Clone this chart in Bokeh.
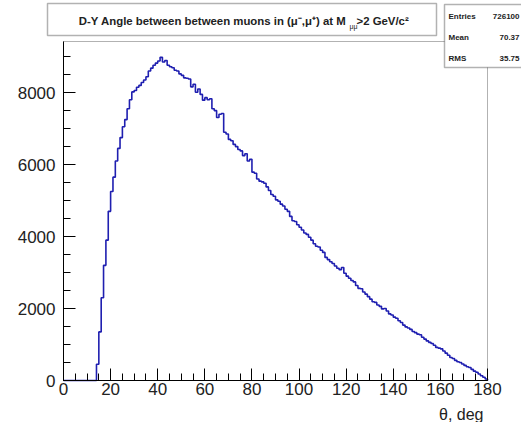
from bokeh.plotting import figure
from bokeh.models import Range1d, SingleIntervalTicker, Label, BoxAnnotation, ColumnDataSource
from bokeh.embed import file_html
from bokeh.resources import INLINE

# histogram bin edges (degrees) and counts per 1-degree bin
theta_edges = list(range(0, 181))
counts = [0] * 14 + [
    450, 1350, 2300, 3200, 3900, 4700, 5250, 5650, 6100, 6450,
    6750, 7050, 7250, 7550, 7800, 8020, 8060, 8150, 8200, 8280,
    8350, 8440, 8600, 8680, 8760, 8820, 8880, 8980, 8850, 8890,
    8760, 8720, 8690, 8620, 8600, 8520, 8480, 8410, 8400, 8380,
    8160, 8230, 8010, 8100, 7950, 7790, 7860, 7800, 7830, 7550,
    7500, 7310, 7400, 7420, 6900, 6850, 6700, 6660, 6560, 6500,
    6420, 6380, 6250, 6300, 6100, 6150, 5790, 5760, 5600, 5540,
    5520, 5480, 5380, 5280, 5170, 5120, 5020, 4980, 4900, 4850,
    4760, 4700, 4560, 4440, 4420, 4330, 4260, 4180, 4100, 4060,
    3980, 3900, 3800, 3730, 3710, 3620, 3560, 3420, 3360, 3300,
    3250, 3180, 3120, 3080, 3140, 2980, 2900, 2840, 2780, 2740,
    2640, 2560, 2550, 2460, 2400, 2330, 2260, 2190, 2170, 2100,
    2060, 1990, 2000, 1930, 1850, 1820, 1760, 1730, 1660, 1610,
    1540, 1490, 1460, 1420, 1360, 1330, 1290, 1270, 1200, 1150,
    1100, 1060, 1030, 980, 920, 900, 880, 820, 760, 700,
    640, 610, 560, 520, 500, 460, 420, 380, 360, 310,
    260, 230, 180, 130, 90, 40,
]

x_min, x_max = 0, 180
y_min, y_max = 0, 9420
x_ticks_interval = 20
y_ticks_interval = 2000
title_main = "D-Y  Angle between between muons in (\u03bc\u207b,\u03bc\u207a) at M"
title_sub = "\u03bc\u03bc"
title_tail = ">2 GeV/c\u00b2"
x_label = "\u03b8, deg"
stats_names = ["Entries", "Mean", "RMS"]
stats_values = ["726100", "70.37", "35.75"]

FONT = "Liberation Sans"
W, H = 521, 422
# frame position of the histogram area in the page (pixels)
FL, FR, FT, FB = 63, 487, 41, 380

sx = (x_max - x_min) / (FR - FL)
sy = (y_max - y_min) / (FB - FT)

def dx(px):
    return x_min + (px - FL) * sx

def dy(py):
    return y_min + (FB - py) * sy

p = figure(width=W, height=H, output_backend="svg", toolbar_location=None,
           x_range=Range1d(dx(0), dx(W)), y_range=Range1d(dy(H), dy(0)),
           min_border=0)
p.background_fill_color = "white"
p.border_fill_color = "white"
p.outline_line_color = None
p.xgrid.grid_line_color = None
p.ygrid.grid_line_color = None

src = ColumnDataSource(dict(x=theta_edges, y=counts + [0]))
p.step("x", "y", source=src, mode="after", line_color="#1f1fb0", line_width=1.6)

# frame
p.add_layout(BoxAnnotation(left=x_min, right=x_max, bottom=y_min, top=y_max,
                           fill_alpha=0, line_color="black", line_width=1))

for ax, tk, loc, bnd in ((p.xaxis, SingleIntervalTicker(interval=x_ticks_interval, num_minor_ticks=4), y_min, (x_min, x_max)),
                         (p.yaxis, SingleIntervalTicker(interval=y_ticks_interval, num_minor_ticks=4), x_min, (y_min, y_max))):
    ax.ticker = tk
    ax.fixed_location = loc
    ax.bounds = bnd
    ax.major_tick_in = 12
    ax.major_tick_out = 0
    ax.minor_tick_in = 7
    ax.minor_tick_out = 0
    ax.major_label_text_font = FONT
    ax.major_label_text_font_size = "17px"
    ax.major_label_text_color = "#222222"
    ax.axis_line_color = "black"
    ax.major_tick_line_color = "black"
    ax.minor_tick_line_color = "black"
p.xaxis.major_label_standoff = 2
p.yaxis.major_label_standoff = 8

# axis title
p.add_layout(Label(x=dx(483), y=dy(414), text=x_label, text_align="right",
                   text_baseline="alphabetic", text_font=FONT, text_font_size="16px",
                   text_color="#222222"))

# title box
p.add_layout(BoxAnnotation(left=dx(47), right=dx(436), top=dy(3), bottom=dy(35),
                           fill_color="white", fill_alpha=1, line_color="black", line_width=1.5))
p.add_layout(Label(x=dx(349), y=dy(20), text=title_main, text_align="right",
                   text_baseline="alphabetic", text_font=FONT, text_font_size="11.4px",
                   text_font_style="bold", text_color="#222222"))
p.add_layout(Label(x=dx(349), y=dy(26), text=title_sub, text_align="left",
                   text_baseline="alphabetic", text_font=FONT, text_font_size="7px",
                   text_color="#222222"))
p.add_layout(Label(x=dx(356), y=dy(20), text=title_tail, text_align="left",
                   text_baseline="alphabetic", text_font=FONT, text_font_size="11.4px",
                   text_font_style="bold", text_color="#222222"))

# stats box
p.add_layout(BoxAnnotation(left=dx(444), right=dx(540), top=dy(4), bottom=dy(67),
                           fill_color="white", fill_alpha=1, line_color="black", line_width=1.5))
for i, (nm, vv) in enumerate(zip(stats_names, stats_values)):
    yy = dy(16 + 21 * i)
    p.add_layout(Label(x=dx(448), y=yy, text=nm, text_align="left", text_baseline="middle",
                       text_font=FONT, text_font_size="8px", text_font_style="bold",
                       text_color="#222222"))
    p.add_layout(Label(x=dx(519), y=yy, text=vv, text_align="right", text_baseline="middle",
                       text_font=FONT, text_font_size="8px", text_font_style="bold",
                       text_color="#222222"))

open("out.html", "w").write(file_html(p, INLINE))
